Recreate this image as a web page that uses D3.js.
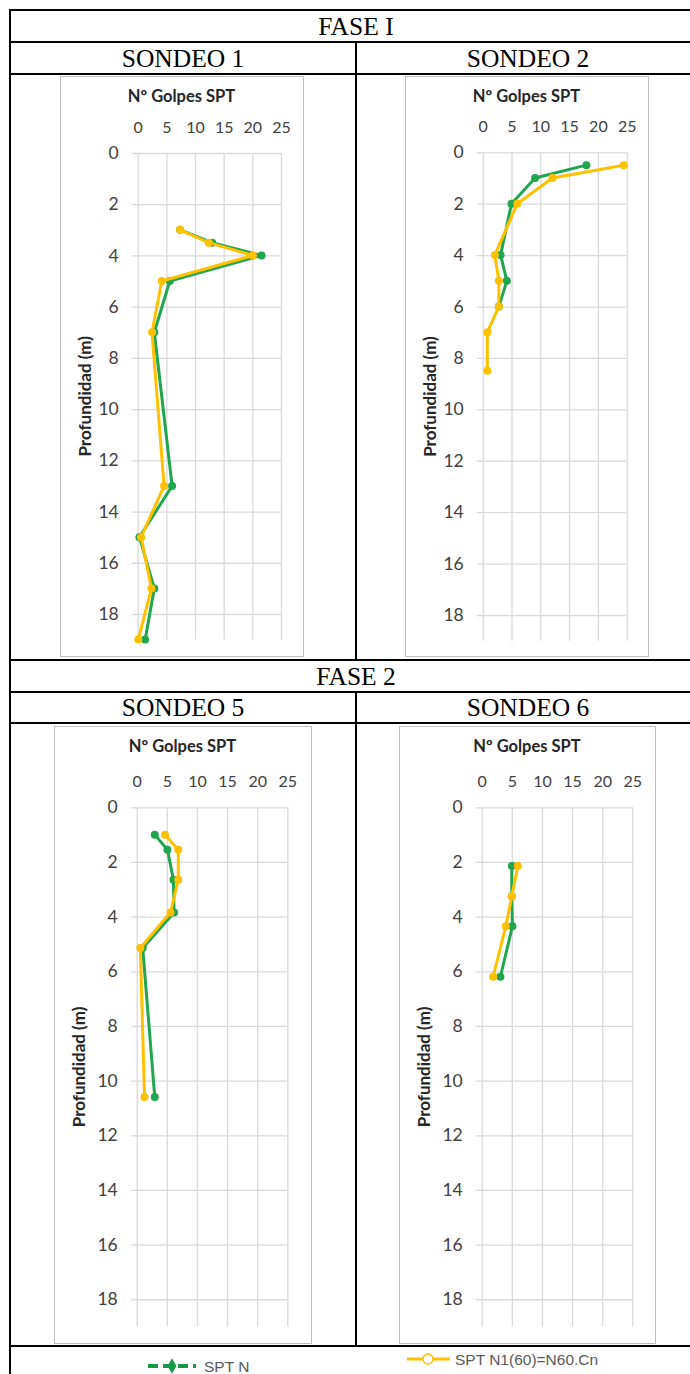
<!DOCTYPE html>
<html>
<head>
<meta charset="utf-8">
<script src="https://cdn.jsdelivr.net/npm/d3@7"></script>
<style>
  html, body { margin: 0; padding: 0; background: #fff; }
  svg { display: block; }
</style>
</head>
<body>
<svg id="chart" width="690" height="1374"></svg>
<script>
// Axis ticks shared by all four logs
const xTicks = [0, 5, 10, 15, 20, 25];
const yTicks = [0, 2, 4, 6, 8, 10, 12, 14, 16, 18];
const xMax = 25;
const yMax = 19;

// Sondeo 1
const s1DepthN = [3, 3.5, 4, 5, 7, 13, 15, 17, 19];
const s1N      = [7.4, 13, 21.6, 5.6, 2.9, 6.0, 0.3, 2.9, 1.3];
const s1DepthC = [3, 3.5, 4, 5, 7, 13, 15, 17, 19];
const s1N160   = [7.4, 12.4, 20.1, 4.2, 2.5, 4.6, 0.6, 2.4, 0.1];

// Sondeo 2
const s2DepthN = [0.5, 1, 2, 4, 5, 6];
const s2N      = [18, 9.1, 5.0, 3.1, 4.2, 2.8];
const s2DepthC = [0.5, 1, 2, 4, 5, 6, 7, 8.5];
const s2N160   = [24.5, 12.1, 6.0, 2.1, 2.8, 2.8, 0.8, 0.8];

// Sondeo 5
const s5DepthN = [1.0, 1.55, 2.65, 3.85, 5.15, 10.6];
const s5N      = [3.0, 5.1, 6.1, 6.2, 1.0, 3.0];
const s5DepthC = [1.0, 1.55, 2.65, 3.85, 5.15, 10.6];
const s5N160   = [4.7, 6.9, 6.9, 5.6, 0.6, 1.3];

// Sondeo 6
const s6DepthN = [2.15, 3.25, 4.35, 6.2];
const s6N      = [5.0, 5.0, 5.1, 3.1];
const s6DepthC = [2.15, 3.25, 4.35, 6.2];
const s6N160   = [6.0, 5.0, 4.0, 1.9];

// Text
const phaseLabels = ["FASE I", "FASE 2"];
const boreholeLabels = ["SONDEO 1", "SONDEO 2", "SONDEO 5", "SONDEO 6"];
const chartTitle = "Nº Golpes SPT";
const yTitle = "Profundidad (m)";
const seriesNames = ["SPT N", "SPT N1(60)=N60.Cn"];

const GREEN = "#20a64e";
const ORANGE = "#ffc000";
const GRID = "#d9d9d9";
const TICKTXT = "#404040";
const SANS = "Lato, 'Open Sans', sans-serif";
const SERIF = "'Liberation Serif', 'Times New Roman', serif";
const ARIAL = "'Liberation Sans', Arial, sans-serif";

const svg = d3.select("#chart");

// ---- table frame ----
const table = svg.append("g").attr("stroke", "#000").attr("stroke-width", 2);
const tL = 10, tR = 702, tMid = 356;
[10, 42, 74, 660, 692, 723, 1346].forEach(y =>
  table.append("line").attr("x1", tL - 1).attr("x2", tR).attr("y1", y).attr("y2", y));
table.append("line").attr("x1", tL).attr("x2", tL).attr("y1", 9).attr("y2", 1374);
[[42, 660], [692, 1346]].forEach(([a, b]) =>
  table.append("line").attr("x1", tMid).attr("x2", tMid).attr("y1", a).attr("y2", b));

function headerText(x, y, t) {
  svg.append("text").attr("x", x).attr("y", y).attr("text-anchor", "middle")
    .attr("font-family", SERIF).attr("font-size", 25.5).attr("fill", "#000").text(t);
}
headerText(356, 35, phaseLabels[0]);
headerText(183, 67, boreholeLabels[0]);
headerText(528, 67, boreholeLabels[1]);
headerText(356, 685, phaseLabels[1]);
headerText(183, 716, boreholeLabels[2]);
headerText(528, 716, boreholeLabels[3]);

// ---- one depth log panel ----
function panel(cfg) {
  const g = svg.append("g");
  g.append("rect").attr("x", cfg.box[0] + 0.5).attr("y", cfg.box[1] + 0.5)
    .attr("width", cfg.box[2] - cfg.box[0]).attr("height", cfg.box[3] - cfg.box[1])
    .attr("fill", "#fff").attr("stroke", "#bfbfbf");

  const x = d3.scaleLinear().domain([0, xMax]).range([cfg.plot[0], cfg.plot[1]]);
  const y = d3.scaleLinear().domain([0, yMax]).range([cfg.plot[2], cfg.plot[3]]);

  // vertical grid
  g.append("g").attr("transform", `translate(0,${y(0)})`)
    .call(d3.axisBottom(x).tickValues(xTicks).tickSize(y(yMax) - y(0)).tickFormat(""))
    .call(a => a.select(".domain").remove())
    .call(a => a.selectAll(".tick line").attr("stroke", GRID).attr("stroke-width", 1.3));

  // horizontal grid with tick stubs on the left
  g.append("g").attr("transform", `translate(${x(xMax)},0)`)
    .call(d3.axisLeft(y).tickValues(yTicks).tickSize(x(xMax) - x(0) + 6).tickFormat(""))
    .call(a => a.select(".domain").remove())
    .call(a => a.selectAll(".tick line").attr("stroke", GRID).attr("stroke-width", 1.3));

  // top tick labels
  g.append("g").attr("transform", `translate(0,${y(0) - 20})`)
    .call(d3.axisTop(x).tickValues(xTicks).tickSize(0).tickPadding(0))
    .call(a => a.select(".domain").remove())
    .call(a => a.selectAll("text").attr("font-family", SANS).attr("font-size", 16)
      .attr("fill", TICKTXT));

  // left tick labels
  g.append("g").attr("transform", `translate(${x(0) - 19},0)`)
    .call(d3.axisLeft(y).tickValues(yTicks).tickSize(0).tickPadding(0))
    .call(a => a.select(".domain").remove())
    .call(a => a.selectAll("text").attr("font-family", SANS).attr("font-size", 17.5)
      .attr("fill", TICKTXT));

  // titles
  g.append("text").attr("x", (cfg.box[0] + cfg.box[2]) / 2).attr("y", cfg.box[1] + 26)
    .attr("text-anchor", "middle").attr("font-family", SANS).attr("font-weight", "bold")
    .attr("font-size", 16.5).attr("fill", "#262626").text(chartTitle);
  const ly = (y(0) + y(yMax)) / 2;
  const lx = cfg.box[0] + 31;
  g.append("text").attr("transform", `translate(${lx},${ly}) rotate(-90)`)
    .attr("text-anchor", "middle").attr("font-family", SANS).attr("font-weight", "bold")
    .attr("font-size", 17).attr("fill", "#262626").text(yTitle);

  // series: SPT N first, corrected value drawn over it
  const line = d3.line().x(d => x(d[0])).y(d => y(d[1]));
  [[cfg.nDepth, cfg.n, GREEN], [cfg.cDepth, cfg.c, ORANGE]].forEach(([dep, val, col]) => {
    const pts = val.map((v, i) => [v, dep[i]]);
    g.append("path").datum(pts).attr("d", line).attr("fill", "none")
      .attr("stroke", col).attr("stroke-width", 3).attr("stroke-linejoin", "round");
    g.selectAll(null).data(pts).enter().append("circle")
      .attr("cx", d => x(d[0])).attr("cy", d => y(d[1])).attr("r", 4).attr("fill", col);
  });
}

panel({ box: [60, 76, 303, 656], plot: [137.7, 281, 153, 639.6],
  nDepth: s1DepthN, n: s1N, cDepth: s1DepthC, c: s1N160 });
panel({ box: [405, 76, 648, 656], plot: [482.7, 626.7, 152.3, 640.7],
  nDepth: s2DepthN, n: s2N, cDepth: s2DepthC, c: s2N160 });
panel({ box: [54, 726, 311, 1343], plot: [136.7, 287.3, 807.3, 1326.6],
  nDepth: s5DepthN, n: s5N, cDepth: s5DepthC, c: s5N160 });
panel({ box: [399, 726, 655, 1343], plot: [481.7, 632.3, 807.3, 1326.6],
  nDepth: s6DepthN, n: s6N, cDepth: s6DepthC, c: s6N160 });

// ---- legend ----
const leg = svg.append("g");
leg.append("line").attr("x1", 148).attr("x2", 196).attr("y1", 1366).attr("y2", 1366)
  .attr("stroke", "#149a45").attr("stroke-width", 4).attr("stroke-dasharray", "10,5");
leg.append("path").attr("d", d3.symbol(d3.symbolDiamond, 70)())
  .attr("transform", "translate(172,1366)").attr("fill", "#149a45");
leg.append("text").attr("x", 204).attr("y", 1372).attr("font-family", ARIAL)
  .attr("font-size", 15.5).attr("fill", "#595959").text(seriesNames[0]);

leg.append("line").attr("x1", 407).attr("x2", 450).attr("y1", 1359).attr("y2", 1359)
  .attr("stroke", ORANGE).attr("stroke-width", 3);
leg.append("circle").attr("cx", 428).attr("cy", 1359).attr("r", 5)
  .attr("fill", "#fff").attr("stroke", ORANGE).attr("stroke-width", 1.5);
leg.append("text").attr("x", 455).attr("y", 1365).attr("font-family", ARIAL)
  .attr("font-size", 15.5).attr("fill", "#595959").text(seriesNames[1]);
</script>
</body>
</html>
